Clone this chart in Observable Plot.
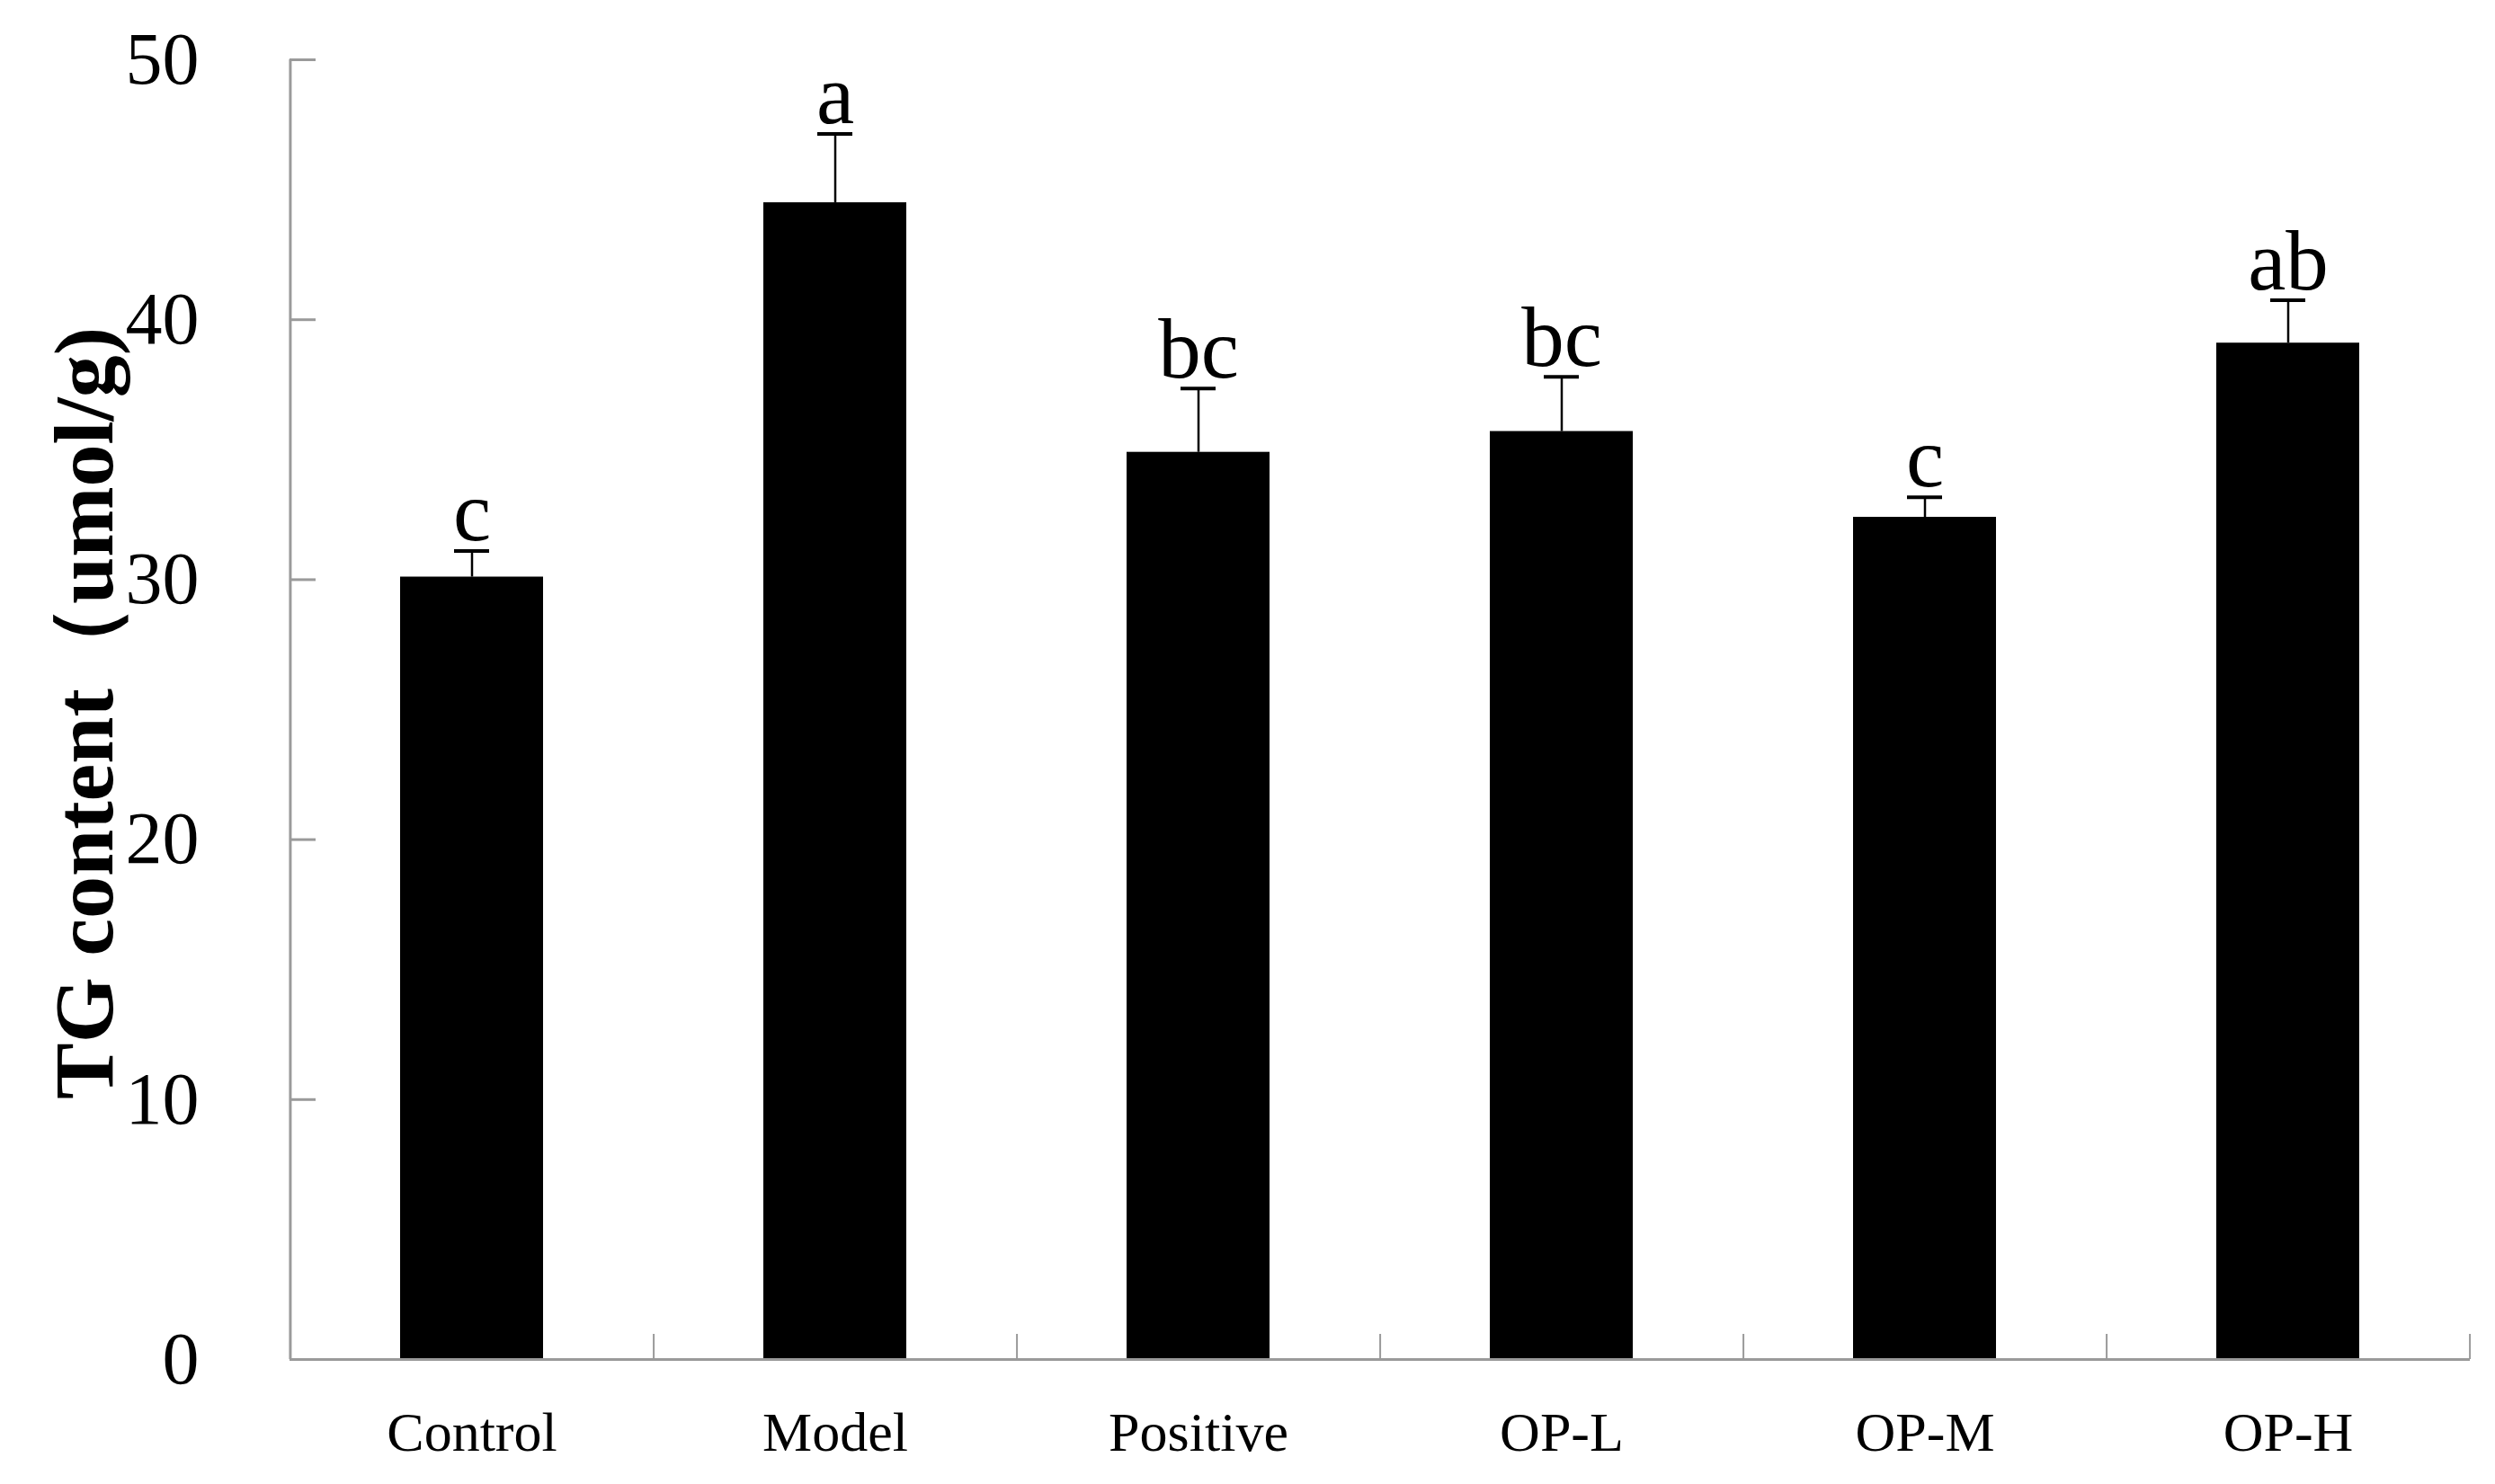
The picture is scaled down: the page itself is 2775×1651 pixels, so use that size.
<!DOCTYPE html>
<html><head><meta charset="utf-8">
<script src="https://cdn.jsdelivr.net/npm/d3@7"></script>
<script src="https://cdn.jsdelivr.net/npm/@observablehq/plot@0.6"></script>
<style>body{margin:0;background:#fff}</style>
</head><body><div id="chart"></div>
<script>
const groups = ["Control", "Model", "Positive", "OP-L", "OP-M", "OP-H"];
const means = [30.1, 44.5, 34.9, 35.7, 32.4, 39.1];
const errors = [1.0, 2.65, 2.45, 2.1, 0.77, 1.65];
const letters = ["c", "a", "bc", "bc", "c", "ab"];
const yTicks = [0, 10, 20, 30, 40, 50];
const yLabel = "TG content（umol/g)";

const data = groups.map((g, i) => ({group: g, mean: means[i], err: errors[i], letter: letters[i]}));

const W = 2775, H = 1651, mL = 322, mR = 28, mT = 66, mB = 139;
const step = (W - mL - mR) / groups.length;
const frameH = H - mT - mB;
const axisColor = "#9a9a9a";
const serif = "'Liberation Serif','Times New Roman',Times,serif";

const chart = Plot.plot({
  width: W, height: H,
  marginLeft: mL, marginRight: mR, marginTop: mT, marginBottom: mB,
  style: {fontFamily: serif, background: "#fff", color: "#000"},
  x: {domain: groups, paddingInner: 0.606, paddingOuter: 0.303},
  y: {domain: [0, 50]},
  marks: [
    Plot.barY(data, {x: "group", y: "mean", fill: "#000"}),
    Plot.ruleX(data, {x: "group", y1: "mean", y2: d => d.mean + d.err, stroke: "#000", strokeWidth: 2.5}),
    Plot.tickY(data, {x: "group", y: d => d.mean + d.err, stroke: "#000", strokeWidth: 4, inset: 60}),
    Plot.text(data, {x: "group", y: d => d.mean + d.err, text: "letter", lineAnchor: "bottom", dy: -12, fontSize: 95}),
    // axis lines and inward ticks
    Plot.ruleX([groups[0]], {x: d => d, dx: -step / 2, y1: 0, y2: 50, stroke: axisColor, strokeWidth: 3}),
    Plot.ruleY([0], {y: d => d, stroke: axisColor, strokeWidth: 3}),
    Plot.tickY(yTicks, {y: d => d, stroke: axisColor, strokeWidth: 3, insetRight: W - mL - mR - 29}),
    Plot.tickX(groups, {x: d => d, dx: step / 2, stroke: axisColor, strokeWidth: 2, insetTop: frameH - 28}),
    Plot.axisY(yTicks, {tickSize: 0, tickPadding: 101, fontSize: 82, label: null}),
    Plot.axisX({tickSize: 0, tickPadding: 57, fontSize: 62, label: null}),
    Plot.text([yLabel], {frameAnchor: "left", textAnchor: "middle", rotate: -90, dx: -198, dy: 4, lineAnchor: "bottom", fontSize: 94, fontWeight: "bold"})
  ]
});
document.getElementById("chart").appendChild(chart);
</script>
</body></html>
